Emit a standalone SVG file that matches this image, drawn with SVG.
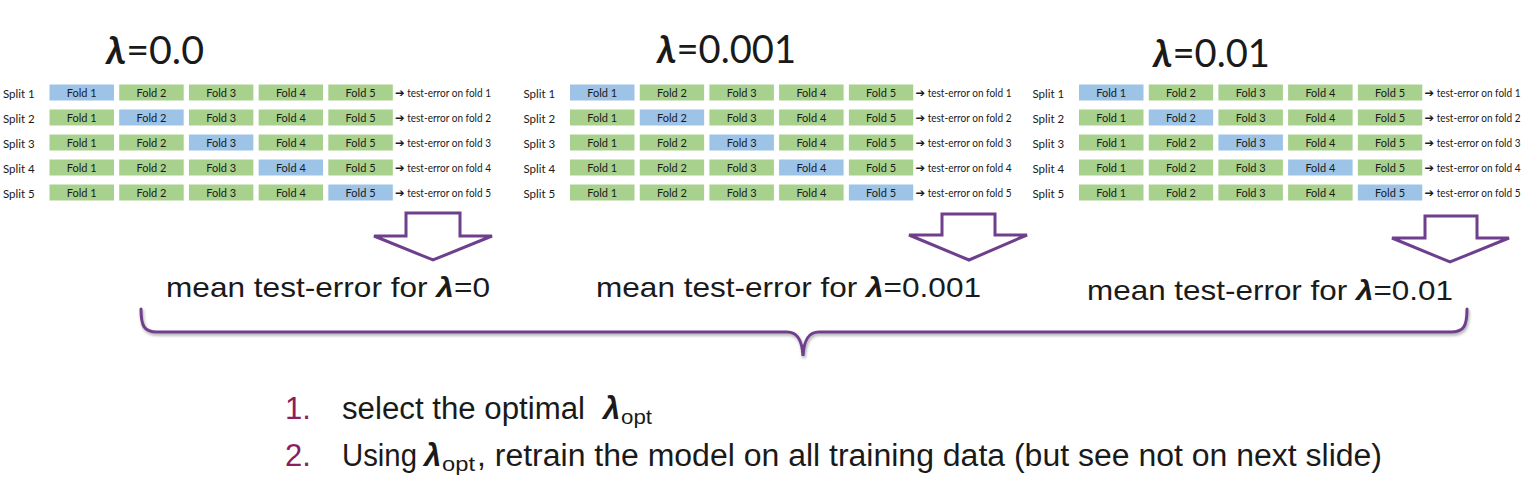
<svg xmlns="http://www.w3.org/2000/svg" width="1523" height="499" viewBox="0 0 1523 499">
<style>
.bg{fill:#ffffff}
.tr{fill:#a9d18e;stroke:#ffffff;stroke-width:1}
.te{fill:#9dc3e6;stroke:#ffffff;stroke-width:1}
.fl{font-family:Lato,"Liberation Sans",sans-serif;font-size:11px;fill:#1a1a1a;text-anchor:middle}
.sp{font-family:Lato,"Liberation Sans",sans-serif;font-size:11.5px;fill:#1a1a1a}
.ar{font-family:Lato,"DejaVu Sans",sans-serif;font-size:10.5px;fill:#1a1a1a}
.arw{font-family:"DejaVu Sans",sans-serif;font-weight:bold;font-size:12px}
.ti{font-family:Lato,"Liberation Sans",sans-serif;font-size:38px;fill:#1a1a1a}
.mn{font-family:"Liberation Sans",Arial,sans-serif;font-size:28px;fill:#1a1a1a}
.li{font-family:"Liberation Sans",Arial,sans-serif;font-size:31px;fill:#1a1a1a}
.num{fill:#8c1d5f}
.lam{font-weight:bold;font-style:italic}
.sub{font-size:21px}
.blk{fill:#ffffff;stroke:#6e3f8c;stroke-width:3;stroke-linejoin:miter}
.brace{fill:none;stroke:#6e3f8c;stroke-width:3;stroke-linecap:round}
</style>
<defs>
<filter id="sh" x="-5%" y="-50%" width="110%" height="200%">
<feDropShadow dx="1" dy="2" stdDeviation="1.5" flood-color="#000000" flood-opacity="0.35"/>
</filter>
</defs>
<rect class="bg" x="0" y="0" width="1523" height="499"/>

<!-- Titles -->
<g id="title-0"><text class="ti" x="106" y="64" textLength="98" lengthAdjust="spacingAndGlyphs"><tspan class="lam">λ</tspan>=0.0</text></g>
<g id="title-0001"><text class="ti" x="657" y="63" textLength="139" lengthAdjust="spacingAndGlyphs"><tspan class="lam">λ</tspan>=0.001</text></g>
<g id="title-001"><text class="ti" x="1153" y="67" textLength="117" lengthAdjust="spacingAndGlyphs"><tspan class="lam">λ</tspan>=0.01</text></g>

<!-- Grid lambda = 0.0 -->
<g id="grid-0">
<g id="g0-split1">
<text class="sp" x="3" y="97.5">Split 1</text>
<rect class="te" x="49" y="84" width="65.5" height="17"/><text class="fl" x="81.75" y="97">Fold 1</text>
<rect class="tr" x="118.7" y="84" width="65.5" height="17"/><text class="fl" x="151.45" y="97">Fold 2</text>
<rect class="tr" x="188.4" y="84" width="65.5" height="17"/><text class="fl" x="221.15" y="97">Fold 3</text>
<rect class="tr" x="258.1" y="84" width="65.5" height="17"/><text class="fl" x="290.85" y="97">Fold 4</text>
<rect class="tr" x="327.8" y="84" width="65.5" height="17"/><text class="fl" x="360.55" y="97">Fold 5</text>
<text class="ar" x="395" y="97" textLength="96" lengthAdjust="spacingAndGlyphs"><tspan class="arw">➔</tspan> test-error on fold 1</text>
</g>
<g id="g0-split2">
<text class="sp" x="3" y="122.5">Split 2</text>
<rect class="tr" x="49" y="109" width="65.5" height="17"/><text class="fl" x="81.75" y="122">Fold 1</text>
<rect class="te" x="118.7" y="109" width="65.5" height="17"/><text class="fl" x="151.45" y="122">Fold 2</text>
<rect class="tr" x="188.4" y="109" width="65.5" height="17"/><text class="fl" x="221.15" y="122">Fold 3</text>
<rect class="tr" x="258.1" y="109" width="65.5" height="17"/><text class="fl" x="290.85" y="122">Fold 4</text>
<rect class="tr" x="327.8" y="109" width="65.5" height="17"/><text class="fl" x="360.55" y="122">Fold 5</text>
<text class="ar" x="395" y="122" textLength="96" lengthAdjust="spacingAndGlyphs"><tspan class="arw">➔</tspan> test-error on fold 2</text>
</g>
<g id="g0-split3">
<text class="sp" x="3" y="147.5">Split 3</text>
<rect class="tr" x="49" y="134" width="65.5" height="17"/><text class="fl" x="81.75" y="147">Fold 1</text>
<rect class="tr" x="118.7" y="134" width="65.5" height="17"/><text class="fl" x="151.45" y="147">Fold 2</text>
<rect class="te" x="188.4" y="134" width="65.5" height="17"/><text class="fl" x="221.15" y="147">Fold 3</text>
<rect class="tr" x="258.1" y="134" width="65.5" height="17"/><text class="fl" x="290.85" y="147">Fold 4</text>
<rect class="tr" x="327.8" y="134" width="65.5" height="17"/><text class="fl" x="360.55" y="147">Fold 5</text>
<text class="ar" x="395" y="147" textLength="96" lengthAdjust="spacingAndGlyphs"><tspan class="arw">➔</tspan> test-error on fold 3</text>
</g>
<g id="g0-split4">
<text class="sp" x="3" y="172.5">Split 4</text>
<rect class="tr" x="49" y="159" width="65.5" height="17"/><text class="fl" x="81.75" y="172">Fold 1</text>
<rect class="tr" x="118.7" y="159" width="65.5" height="17"/><text class="fl" x="151.45" y="172">Fold 2</text>
<rect class="tr" x="188.4" y="159" width="65.5" height="17"/><text class="fl" x="221.15" y="172">Fold 3</text>
<rect class="te" x="258.1" y="159" width="65.5" height="17"/><text class="fl" x="290.85" y="172">Fold 4</text>
<rect class="tr" x="327.8" y="159" width="65.5" height="17"/><text class="fl" x="360.55" y="172">Fold 5</text>
<text class="ar" x="395" y="172" textLength="96" lengthAdjust="spacingAndGlyphs"><tspan class="arw">➔</tspan> test-error on fold 4</text>
</g>
<g id="g0-split5">
<text class="sp" x="3" y="197.5">Split 5</text>
<rect class="tr" x="49" y="184" width="65.5" height="17"/><text class="fl" x="81.75" y="197">Fold 1</text>
<rect class="tr" x="118.7" y="184" width="65.5" height="17"/><text class="fl" x="151.45" y="197">Fold 2</text>
<rect class="tr" x="188.4" y="184" width="65.5" height="17"/><text class="fl" x="221.15" y="197">Fold 3</text>
<rect class="tr" x="258.1" y="184" width="65.5" height="17"/><text class="fl" x="290.85" y="197">Fold 4</text>
<rect class="te" x="327.8" y="184" width="65.5" height="17"/><text class="fl" x="360.55" y="197">Fold 5</text>
<text class="ar" x="395" y="197" textLength="96" lengthAdjust="spacingAndGlyphs"><tspan class="arw">➔</tspan> test-error on fold 5</text>
</g>
</g>

<!-- Grid lambda = 0.001 -->
<g id="grid-0001" transform="translate(520.5,0)">
<g id="g1-split1">
<text class="sp" x="3" y="97.5">Split 1</text>
<rect class="te" x="49" y="84" width="65.5" height="17"/><text class="fl" x="81.75" y="97">Fold 1</text>
<rect class="tr" x="118.7" y="84" width="65.5" height="17"/><text class="fl" x="151.45" y="97">Fold 2</text>
<rect class="tr" x="188.4" y="84" width="65.5" height="17"/><text class="fl" x="221.15" y="97">Fold 3</text>
<rect class="tr" x="258.1" y="84" width="65.5" height="17"/><text class="fl" x="290.85" y="97">Fold 4</text>
<rect class="tr" x="327.8" y="84" width="65.5" height="17"/><text class="fl" x="360.55" y="97">Fold 5</text>
<text class="ar" x="395" y="97" textLength="96" lengthAdjust="spacingAndGlyphs"><tspan class="arw">➔</tspan> test-error on fold 1</text>
</g>
<g id="g1-split2">
<text class="sp" x="3" y="122.5">Split 2</text>
<rect class="tr" x="49" y="109" width="65.5" height="17"/><text class="fl" x="81.75" y="122">Fold 1</text>
<rect class="te" x="118.7" y="109" width="65.5" height="17"/><text class="fl" x="151.45" y="122">Fold 2</text>
<rect class="tr" x="188.4" y="109" width="65.5" height="17"/><text class="fl" x="221.15" y="122">Fold 3</text>
<rect class="tr" x="258.1" y="109" width="65.5" height="17"/><text class="fl" x="290.85" y="122">Fold 4</text>
<rect class="tr" x="327.8" y="109" width="65.5" height="17"/><text class="fl" x="360.55" y="122">Fold 5</text>
<text class="ar" x="395" y="122" textLength="96" lengthAdjust="spacingAndGlyphs"><tspan class="arw">➔</tspan> test-error on fold 2</text>
</g>
<g id="g1-split3">
<text class="sp" x="3" y="147.5">Split 3</text>
<rect class="tr" x="49" y="134" width="65.5" height="17"/><text class="fl" x="81.75" y="147">Fold 1</text>
<rect class="tr" x="118.7" y="134" width="65.5" height="17"/><text class="fl" x="151.45" y="147">Fold 2</text>
<rect class="te" x="188.4" y="134" width="65.5" height="17"/><text class="fl" x="221.15" y="147">Fold 3</text>
<rect class="tr" x="258.1" y="134" width="65.5" height="17"/><text class="fl" x="290.85" y="147">Fold 4</text>
<rect class="tr" x="327.8" y="134" width="65.5" height="17"/><text class="fl" x="360.55" y="147">Fold 5</text>
<text class="ar" x="395" y="147" textLength="96" lengthAdjust="spacingAndGlyphs"><tspan class="arw">➔</tspan> test-error on fold 3</text>
</g>
<g id="g1-split4">
<text class="sp" x="3" y="172.5">Split 4</text>
<rect class="tr" x="49" y="159" width="65.5" height="17"/><text class="fl" x="81.75" y="172">Fold 1</text>
<rect class="tr" x="118.7" y="159" width="65.5" height="17"/><text class="fl" x="151.45" y="172">Fold 2</text>
<rect class="tr" x="188.4" y="159" width="65.5" height="17"/><text class="fl" x="221.15" y="172">Fold 3</text>
<rect class="te" x="258.1" y="159" width="65.5" height="17"/><text class="fl" x="290.85" y="172">Fold 4</text>
<rect class="tr" x="327.8" y="159" width="65.5" height="17"/><text class="fl" x="360.55" y="172">Fold 5</text>
<text class="ar" x="395" y="172" textLength="96" lengthAdjust="spacingAndGlyphs"><tspan class="arw">➔</tspan> test-error on fold 4</text>
</g>
<g id="g1-split5">
<text class="sp" x="3" y="197.5">Split 5</text>
<rect class="tr" x="49" y="184" width="65.5" height="17"/><text class="fl" x="81.75" y="197">Fold 1</text>
<rect class="tr" x="118.7" y="184" width="65.5" height="17"/><text class="fl" x="151.45" y="197">Fold 2</text>
<rect class="tr" x="188.4" y="184" width="65.5" height="17"/><text class="fl" x="221.15" y="197">Fold 3</text>
<rect class="tr" x="258.1" y="184" width="65.5" height="17"/><text class="fl" x="290.85" y="197">Fold 4</text>
<rect class="te" x="327.8" y="184" width="65.5" height="17"/><text class="fl" x="360.55" y="197">Fold 5</text>
<text class="ar" x="395" y="197" textLength="96" lengthAdjust="spacingAndGlyphs"><tspan class="arw">➔</tspan> test-error on fold 5</text>
</g>
</g>

<!-- Grid lambda = 0.01 -->
<g id="grid-001" transform="translate(1029.5,0)">
<g id="g2-split1">
<text class="sp" x="3" y="97.5">Split 1</text>
<rect class="te" x="49" y="84" width="65.5" height="17"/><text class="fl" x="81.75" y="97">Fold 1</text>
<rect class="tr" x="118.7" y="84" width="65.5" height="17"/><text class="fl" x="151.45" y="97">Fold 2</text>
<rect class="tr" x="188.4" y="84" width="65.5" height="17"/><text class="fl" x="221.15" y="97">Fold 3</text>
<rect class="tr" x="258.1" y="84" width="65.5" height="17"/><text class="fl" x="290.85" y="97">Fold 4</text>
<rect class="tr" x="327.8" y="84" width="65.5" height="17"/><text class="fl" x="360.55" y="97">Fold 5</text>
<text class="ar" x="395" y="97" textLength="96" lengthAdjust="spacingAndGlyphs"><tspan class="arw">➔</tspan> test-error on fold 1</text>
</g>
<g id="g2-split2">
<text class="sp" x="3" y="122.5">Split 2</text>
<rect class="tr" x="49" y="109" width="65.5" height="17"/><text class="fl" x="81.75" y="122">Fold 1</text>
<rect class="te" x="118.7" y="109" width="65.5" height="17"/><text class="fl" x="151.45" y="122">Fold 2</text>
<rect class="tr" x="188.4" y="109" width="65.5" height="17"/><text class="fl" x="221.15" y="122">Fold 3</text>
<rect class="tr" x="258.1" y="109" width="65.5" height="17"/><text class="fl" x="290.85" y="122">Fold 4</text>
<rect class="tr" x="327.8" y="109" width="65.5" height="17"/><text class="fl" x="360.55" y="122">Fold 5</text>
<text class="ar" x="395" y="122" textLength="96" lengthAdjust="spacingAndGlyphs"><tspan class="arw">➔</tspan> test-error on fold 2</text>
</g>
<g id="g2-split3">
<text class="sp" x="3" y="147.5">Split 3</text>
<rect class="tr" x="49" y="134" width="65.5" height="17"/><text class="fl" x="81.75" y="147">Fold 1</text>
<rect class="tr" x="118.7" y="134" width="65.5" height="17"/><text class="fl" x="151.45" y="147">Fold 2</text>
<rect class="te" x="188.4" y="134" width="65.5" height="17"/><text class="fl" x="221.15" y="147">Fold 3</text>
<rect class="tr" x="258.1" y="134" width="65.5" height="17"/><text class="fl" x="290.85" y="147">Fold 4</text>
<rect class="tr" x="327.8" y="134" width="65.5" height="17"/><text class="fl" x="360.55" y="147">Fold 5</text>
<text class="ar" x="395" y="147" textLength="96" lengthAdjust="spacingAndGlyphs"><tspan class="arw">➔</tspan> test-error on fold 3</text>
</g>
<g id="g2-split4">
<text class="sp" x="3" y="172.5">Split 4</text>
<rect class="tr" x="49" y="159" width="65.5" height="17"/><text class="fl" x="81.75" y="172">Fold 1</text>
<rect class="tr" x="118.7" y="159" width="65.5" height="17"/><text class="fl" x="151.45" y="172">Fold 2</text>
<rect class="tr" x="188.4" y="159" width="65.5" height="17"/><text class="fl" x="221.15" y="172">Fold 3</text>
<rect class="te" x="258.1" y="159" width="65.5" height="17"/><text class="fl" x="290.85" y="172">Fold 4</text>
<rect class="tr" x="327.8" y="159" width="65.5" height="17"/><text class="fl" x="360.55" y="172">Fold 5</text>
<text class="ar" x="395" y="172" textLength="96" lengthAdjust="spacingAndGlyphs"><tspan class="arw">➔</tspan> test-error on fold 4</text>
</g>
<g id="g2-split5">
<text class="sp" x="3" y="197.5">Split 5</text>
<rect class="tr" x="49" y="184" width="65.5" height="17"/><text class="fl" x="81.75" y="197">Fold 1</text>
<rect class="tr" x="118.7" y="184" width="65.5" height="17"/><text class="fl" x="151.45" y="197">Fold 2</text>
<rect class="tr" x="188.4" y="184" width="65.5" height="17"/><text class="fl" x="221.15" y="197">Fold 3</text>
<rect class="tr" x="258.1" y="184" width="65.5" height="17"/><text class="fl" x="290.85" y="197">Fold 4</text>
<rect class="te" x="327.8" y="184" width="65.5" height="17"/><text class="fl" x="360.55" y="197">Fold 5</text>
<text class="ar" x="395" y="197" textLength="96" lengthAdjust="spacingAndGlyphs"><tspan class="arw">➔</tspan> test-error on fold 5</text>
</g>
</g>

<!-- Connectors: block arrows and brace -->
<g id="connectors">
<polygon class="blk" points="406,213 460,213 460,236 492,236 433,260 374,236 406,236"/>
<polygon class="blk" points="942,214 995,214 995,235 1027,235 969,260 909,235 942,235"/>
<polygon class="blk" points="1425,216 1477,216 1477,238 1509,238 1450,262 1392,238 1425,238"/>
<path class="brace" filter="url(#sh)" d="M141,309 C141,326 144,332 157,332 L787,332 C797,332 802,339 803,356 C804,339 809,332 819,332 L1451,332 C1464,332 1467,326 1467,309"/>
</g>

<!-- Mean test-error labels -->
<g id="mean-0"><text class="mn" x="166" y="297" textLength="324" lengthAdjust="spacingAndGlyphs">mean test-error for <tspan class="lam">λ</tspan>=0</text></g>
<g id="mean-0001"><text class="mn" x="596" y="297" textLength="385" lengthAdjust="spacingAndGlyphs">mean test-error for <tspan class="lam">λ</tspan>=0.001</text></g>
<g id="mean-001"><text class="mn" x="1087" y="300" textLength="366" lengthAdjust="spacingAndGlyphs">mean test-error for <tspan class="lam">λ</tspan>=0.01</text></g>

<!-- Steps -->
<g id="steps">
<text class="li num" x="285" y="419">1.</text>
<text class="li" x="342" y="419" textLength="243" lengthAdjust="spacingAndGlyphs">select the optimal</text>
<text class="li lam" x="603" y="419">λ</text>
<text class="li sub" x="621" y="424" textLength="31" lengthAdjust="spacingAndGlyphs">opt</text>
<text class="li num" x="285" y="466">2.</text>
<text class="li" x="342" y="466" textLength="75" lengthAdjust="spacingAndGlyphs">Using</text>
<text class="li lam" x="424" y="466">λ</text>
<text class="li sub" x="442" y="471" textLength="33" lengthAdjust="spacingAndGlyphs">opt</text>
<text class="li" x="477" y="466" textLength="905" lengthAdjust="spacingAndGlyphs">, retrain the model on all training data (but see not on next slide)</text>
</g>
</svg>
